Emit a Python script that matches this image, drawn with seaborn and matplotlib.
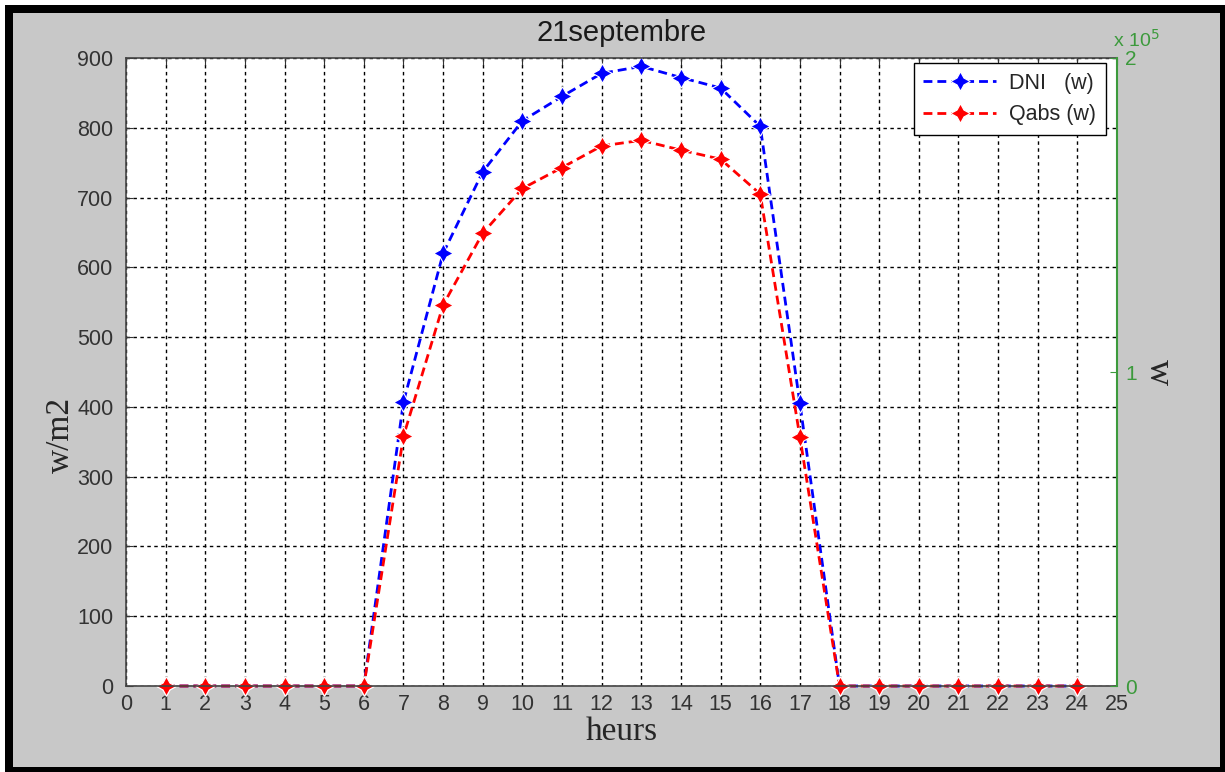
import numpy as np
import pandas as pd
import matplotlib
matplotlib.use("Agg")
import matplotlib.pyplot as plt
from matplotlib.patches import Rectangle
import seaborn as sns

hours = list(range(1, 25))
dni = [0, 0, 0, 0, 0, 0, 407, 620, 737, 810, 845, 878, 888, 872, 857, 802, 405, 0, 0, 0, 0, 0, 0, 0]
qabs = [0, 0, 0, 0, 0, 0, 358, 546, 649, 713, 743, 774, 782, 768, 755, 705, 357, 0, 0, 0, 0, 0, 0, 0]
series_names = ["DNI   (w)", "Qabs (w)"]
left_ticks = list(range(0, 1000, 100))
x_ticks = list(range(0, 26))
right_ticks = [0, 1e5, 2e5]

sns.set_style("white")
plt.rcParams['font.family'] = ['Liberation Sans', 'DejaVu Sans']

W, H = 1225, 772
fig = plt.figure(figsize=(W / 100, H / 100), dpi=100)
fig.patch.set_facecolor("white")
fig.add_artist(Rectangle((5 / W, 0), 1 - 5 / W, 1 - 5 / H, transform=fig.transFigure,
                         facecolor="black", edgecolor="none", zorder=-10))
fig.add_artist(Rectangle((13 / W, 5 / H), 1 - 13 / W - 5 / W, 1 - 13 / H - 5 / H,
                         transform=fig.transFigure, facecolor="#c8c8c8", edgecolor="none", zorder=-9))

ax = fig.add_axes([126 / W, 1 - 686 / H, (1117 - 126) / W, (686 - 58) / H])
ax.set_facecolor("white")

df = pd.DataFrame({
    "heure": hours * 2,
    "val": dni + qabs,
    "serie": [series_names[0]] * len(hours) + [series_names[1]] * len(hours),
})
star = (4, 1, 0)
sns.lineplot(data=df, x="heure", y="val", hue="serie", palette=["#0000ff", "#ff0000"],
             ax=ax, linewidth=2, marker=star, markersize=14, markeredgewidth=0.8,
             sort=False, estimator=None, legend=True)
for ln in ax.lines:
    ln.set_linestyle((0, (3.2, 1.8)))
    ln.set_clip_on(False)

ax.set_xlim(0, 25)
ax.set_ylim(0, 900)
ax.set_xticks(x_ticks)
ax.set_yticks(left_ticks)
ax.grid(True, color="black", linestyle=(0, (2.5, 2.5)), linewidth=1)
ax.set_axisbelow(True)
ax.tick_params(axis="both", direction="in", length=5, color="#333333", labelcolor="#333333",
               labelsize=15.5, top=True)
ax.tick_params(axis="y", pad=9)
ax.tick_params(axis="x", pad=6)
for s in ["left", "bottom", "top"]:
    ax.spines[s].set_color("#444444")
    ax.spines[s].set_linewidth(1.2)
ax.spines["right"].set_visible(False)

ax.set_xlabel("heurs", fontsize=24, family=["Liberation Serif", "DejaVu Serif"], labelpad=1)
ax.set_ylabel("w/m2", fontsize=24, family=["Liberation Serif", "DejaVu Serif"])
ax.yaxis.set_label_coords(-0.050, 0.40)
ax.set_title("21septembre", fontsize=21, color="#1a1a1a", pad=12)

leg = ax.legend(loc="upper right", fontsize=15.5, frameon=True, fancybox=False,
                edgecolor="black", framealpha=1, handlelength=3.4, borderpad=0.45,
                labelspacing=0.5, handletextpad=0.6, borderaxespad=0,
                bbox_to_anchor=(0.989, 0.992))
leg.get_frame().set_linewidth(1.0)
for h in leg.get_lines():
    h.set_linestyle((0, (3.2, 1.8)))

green = "#3c9a3c"
ax2 = ax.twinx()
ax2.set_ylim(0, 2e5)
ax2.set_yticks(right_ticks)
ax2.set_yticklabels([f"{v / 1e5:g}" for v in right_ticks])
ax2.tick_params(axis="y", direction="in", length=5, color=green, labelcolor=green,
                labelsize=15, pad=6)
ax2.grid(False)
ax2.spines["right"].set_color(green)
ax2.spines["right"].set_linewidth(1.5)
for s in ["left", "top", "bottom"]:
    ax2.spines[s].set_visible(False)
ax2.set_ylabel("w", fontsize=26, family=["Liberation Serif", "DejaVu Serif"],
               rotation=270, labelpad=27)
fig.text(1113 / W, 1 - 40 / H, r"x 10$^{5}$", color=green, fontsize=14, ha="left", va="center")

fig.savefig("out.png", dpi=100, facecolor=fig.get_facecolor())
